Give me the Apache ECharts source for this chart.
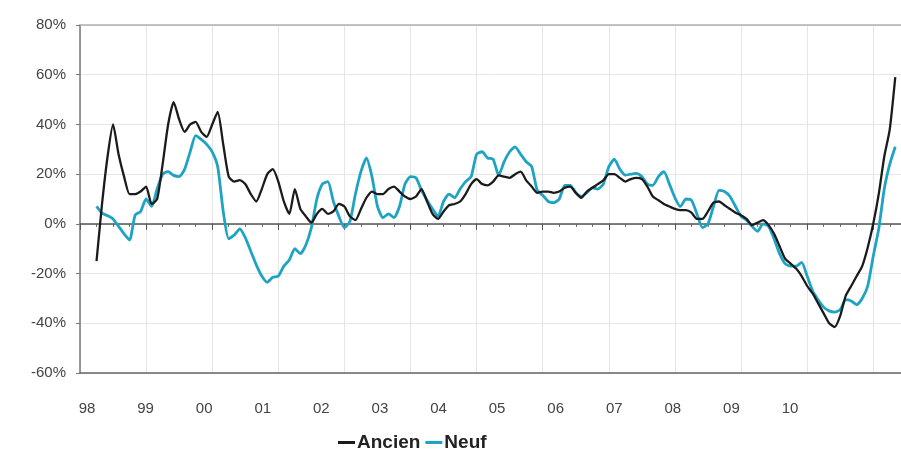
<!DOCTYPE html>
<html>
<head>
<meta charset="utf-8">
<script src="https://cdn.jsdelivr.net/npm/echarts@6/dist/echarts.min.js"></script>
<style>html,body{margin:0;padding:0;background:#fff}#c{width:901px;height:456px}</style>
</head>
<body>
<div id="c"></div>
<script>
// Monthly series, first point = April 1998
const startYear = 1998;
const startMonth = 4;
const ancien = [
 -15, 8, 27, 40, 28, 19, 12, 12, 13, 15, 8, 10,
 24, 40, 49, 42, 37, 40, 41, 37, 35, 40, 45, 32,
 19, 17, 17.6, 16, 12, 9, 14, 20, 22, 17, 9, 4,
 14, 6, 3, 0.5, 4, 6, 4, 5, 8, 7, 3, 1.5,
 6, 10.5, 13, 12, 12, 14, 15, 13, 11, 10, 11, 14,
 9, 4, 2, 5, 7.5, 8, 9, 12, 16, 18, 16, 15.5,
 17, 19.5, 19, 18.5, 20, 21, 17.5, 15, 12.5, 13, 13, 12.5,
 13, 14.5, 15, 12.5, 10.5, 13, 14.5, 16, 17.5, 20, 20, 18.5,
 17, 18, 18.5, 18, 15, 11, 9.5, 8, 7, 6, 5.5, 5.5,
 4.5, 2, 2, 5, 8.5, 9, 7.5, 6, 4.5, 3.5, 2, -0.5,
 0.5, 1.5, -0.5, -4, -9, -14, -16, -18, -21, -25, -28, -32,
 -36, -40, -41.5, -37, -29, -25, -21, -17, -9.5, 0, 12, 27,
 38, 59
];
const neuf = [
 7, 4.3, 3.3, 2, -1, -4, -6.5, 3.5, 5, 10, 7, 14,
 20, 21, 19.5, 19, 22, 29, 35.5, 34, 32, 29, 23, 5,
 -6, -4.5, -2, -5.5, -11, -16.5, -21, -23.5, -21.5, -21, -17, -14.5,
 -10, -12, -8.5, -1.5, 10, 16, 17, 9, 3, -1.5, 1, 12,
 21, 26.5, 19, 7, 2.5, 4, 2.5, 7, 16, 19, 18.5, 13.5,
 9.5, 6, 3, 9, 12, 10.5, 14, 17, 19, 28, 29, 26.5,
 26, 19.5, 25, 29, 31, 28, 25, 23, 13.5, 11.5, 9, 8.5,
 10, 15.5, 15.5, 12.5, 11, 12.5, 14.5, 14, 16, 23, 26, 22,
 19.6, 20, 20.3, 19, 16, 15.5, 19, 21, 16, 10.5, 7, 10,
 9.5, 4, -1.5, 0, 7, 13.5, 13, 11, 7, 3, 1.5, -1,
 -3, 0, -1, -6, -12, -16, -17, -17, -15.5, -21, -27, -30.5,
 -33.5, -35, -35.5, -34.5, -30.5, -31, -32.5, -30, -25, -13, -2, 14,
 24, 31
];
const yearLabels = ['98','99','00','01','02','03','04','05','06','07','08','09','10'];
const seriesNames = ['Ancien', 'Neuf'];
const colors = ['#1b1b1b', '#1fa3c2'];

const toPairs = arr => arr.map((v, i) => [startYear + (startMonth - 1 + i) / 12, v]);

const chart = echarts.init(document.getElementById('c'));
const font = 'Liberation Sans, Arial, sans-serif';
chart.setOption({
  animation: false,
  backgroundColor: '#fff',
  grid: [
    {left: 80, right: 0, top: 25, bottom: 83},
    {left: 87, right: 111, top: 25, bottom: 83}
  ],
  legend: {
    data: seriesNames,
    left: 333, top: 428,
    icon: 'rect', itemWidth: 17, itemHeight: 3, itemGap: 5,
    textStyle: {fontFamily: font, fontSize: 19, fontWeight: 'bold', color: '#222', padding: [0,0,0,-3]}
  },
  xAxis: [
    {
      type: 'value', gridIndex: 0, min: 1998, max: 2010.42, interval: 1,
      axisLine: {onZero: true, lineStyle: {color: '#555', width: 1.5}},
      axisTick: {show: true, length: 6, lineStyle: {color: '#555'}},
      minorTick: {show: true, splitNumber: 4, length: 3, lineStyle: {color: '#666'}},
      axisLabel: {show: false},
      splitLine: {show: true, lineStyle: {color: '#e6e6e6', width: 1}}
    },
    {
      type: 'value', gridIndex: 0, min: 1998, max: 2010.42, position: 'bottom',
      axisLine: {onZero: false, lineStyle: {color: '#666', width: 1.5}},
      axisTick: {show: false}, axisLabel: {show: false}, splitLine: {show: false}
    },
    {
      type: 'value', gridIndex: 0, min: 1998, max: 2010.42, position: 'top',
      axisLine: {onZero: false, lineStyle: {color: '#b0b0b0', width: 1.5}},
      axisTick: {show: false}, axisLabel: {show: false}, splitLine: {show: false}
    },
    {
      type: 'value', gridIndex: 1, min: 1998, max: 2010, interval: 1,
      axisLine: {show: false}, axisTick: {show: false}, splitLine: {show: false},
      axisLabel: {
        margin: 28, fontFamily: font, fontSize: 15, color: '#444',
        formatter: v => yearLabels[Math.round(v - 1998)]
      }
    }
  ],
  yAxis: [
    {
      type: 'value', gridIndex: 0, min: -60, max: 80, interval: 20,
      axisLine: {show: true, onZero: false, lineStyle: {color: '#777', width: 1.5}},
      axisTick: {show: true, length: 4, lineStyle: {color: '#777'}},
      axisLabel: {margin: 14, fontFamily: font, fontSize: 15, color: '#444', formatter: '{value}%'},
      splitLine: {show: true, lineStyle: {color: '#e6e6e6', width: 1}}
    },
    {
      type: 'value', gridIndex: 1, min: -60, max: 80, interval: 20,
      axisLine: {show: false}, axisTick: {show: false}, axisLabel: {show: false}, splitLine: {show: false}
    }
  ],
  series: [
    {
      name: seriesNames[0], type: 'line', xAxisIndex: 0, yAxisIndex: 0,
      data: toPairs(ancien), showSymbol: false, smooth: 0.2, z: 3,
      lineStyle: {color: colors[0], width: 2.3}, itemStyle: {color: colors[0]}
    },
    {
      name: seriesNames[1], type: 'line', xAxisIndex: 0, yAxisIndex: 0,
      data: toPairs(neuf), showSymbol: false, smooth: 0.2, z: 2,
      lineStyle: {color: colors[1], width: 2.8}, itemStyle: {color: colors[1]}
    }
  ]
});
</script>
</body>
</html>
